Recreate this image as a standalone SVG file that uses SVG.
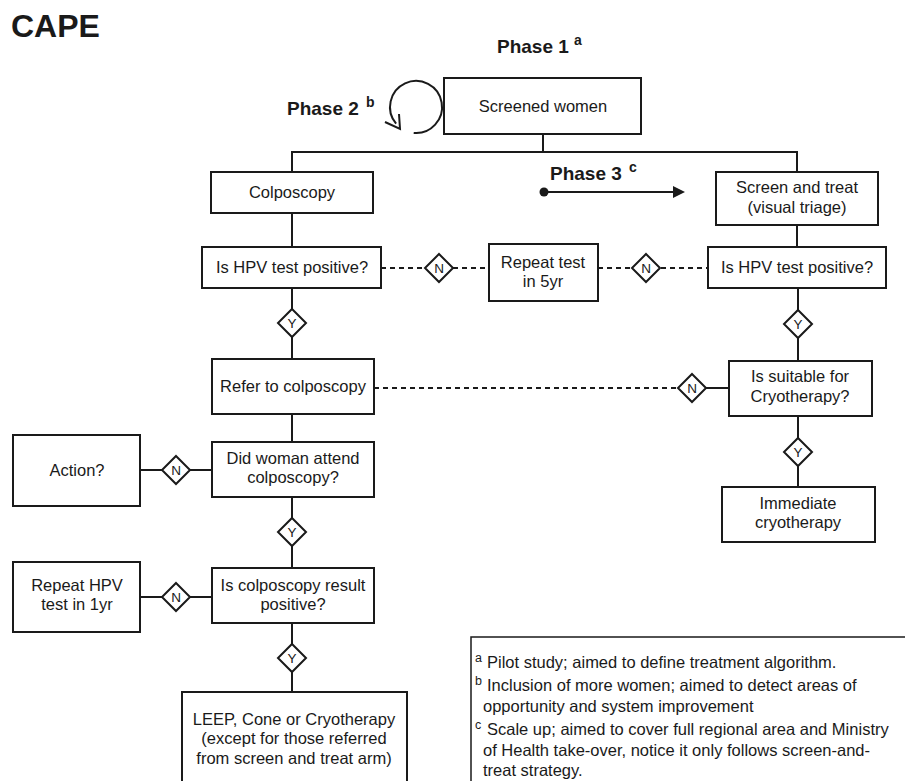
<svg xmlns="http://www.w3.org/2000/svg" width="905" height="781" viewBox="0 0 905 781">
<style>
.box{fill:#fff;stroke:#1a1a1a;stroke-width:2}
.dia{fill:#fff;stroke:#1a1a1a;stroke-width:2}
.ln{fill:none;stroke:#1a1a1a;stroke-width:2}
.dash{fill:none;stroke:#1a1a1a;stroke-width:2;stroke-dasharray:5,4}
text{font-family:"Liberation Sans",Arial,sans-serif;fill:#1a1a1a}
.t{font-size:16.5px;text-anchor:middle}
.d{font-size:13.5px;text-anchor:middle}
.ph{font-size:19px;font-weight:bold}
.sup{font-size:14px;font-weight:bold}
.lg{font-size:16.5px}
.ls{font-size:12.5px}
</style>
<rect width="905" height="781" fill="#fff"/>
<text x="11" y="37" style="font-size:32px;font-weight:bold">CAPE</text>

<g id="phases">
<text class="ph" x="497" y="53">Phase 1</text><text class="sup" x="574" y="45">a</text>
<text class="ph" x="287" y="115">Phase 2</text><text class="sup" x="366" y="107">b</text>
<text class="ph" x="550" y="180">Phase 3</text><text class="sup" x="629" y="172">c</text>
<path class="ln" d="M413.7,132.9 A26,26 0 1 0 396.1,123.7"/>
<polyline class="ln" points="385,122 400,129 399,114"/>
<circle cx="544" cy="192" r="4.5" fill="#1a1a1a"/>
<line class="ln" x1="544" y1="192" x2="675" y2="192"/>
<polygon points="685,192 673,186 673,198" fill="#1a1a1a"/>
</g>

<g id="connectors">
<line class="ln" x1="543" y1="134" x2="543" y2="152"/>
<polyline class="ln" points="292,172 292,152 797,152 797,172"/>
<line class="ln" x1="292" y1="213" x2="292" y2="247"/>
<line class="ln" x1="797" y1="225" x2="797" y2="247"/>
<line class="ln" x1="292" y1="288" x2="292" y2="359"/>
<line class="ln" x1="292" y1="414" x2="292" y2="442"/>
<line class="ln" x1="292" y1="497" x2="292" y2="568"/>
<line class="ln" x1="292" y1="623" x2="292" y2="692"/>
<line class="ln" x1="140" y1="470" x2="212" y2="470"/>
<line class="ln" x1="140" y1="597" x2="212" y2="597"/>
<line class="ln" x1="798" y1="288" x2="798" y2="361"/>
<line class="ln" x1="798" y1="416" x2="798" y2="487"/>
<line class="ln" x1="692" y1="388" x2="729" y2="388"/>
<line class="dash" x1="374" y1="388" x2="678" y2="388"/>
<line class="dash" x1="381" y1="268" x2="489" y2="268"/>
<line class="dash" x1="598" y1="268" x2="708" y2="268"/>
</g>

<g id="n-screened"><rect class="box" x="444" y="78" width="197" height="56"/><text class="t" x="543" y="112">Screened women</text></g>
<g id="n-colposcopy"><rect class="box" x="211" y="172" width="162" height="41"/><text class="t" x="292" y="198">Colposcopy</text></g>
<g id="n-screentreat"><rect class="box" x="716" y="172" width="162" height="53"/><text class="t" x="797" y="193">Screen and treat</text><text class="t" x="797" y="213">(visual triage)</text></g>
<g id="n-hpv-left"><rect class="box" x="202" y="247" width="179" height="41"/><text class="t" x="292" y="273">Is HPV test positive?</text></g>
<g id="n-repeat5"><rect class="box" x="489" y="244" width="109" height="57"/><text class="t" x="543" y="268">Repeat test</text><text class="t" x="543" y="287">in 5yr</text></g>
<g id="n-hpv-right"><rect class="box" x="708" y="247" width="178" height="41"/><text class="t" x="797" y="273">Is HPV test positive?</text></g>
<g id="n-refer"><rect class="box" x="212" y="359" width="162" height="55"/><text class="t" x="293" y="392">Refer to colposcopy</text></g>
<g id="n-suitable"><rect class="box" x="729" y="361" width="143" height="55"/><text class="t" x="800" y="382">Is suitable for</text><text class="t" x="800" y="402">Cryotherapy?</text></g>
<g id="n-attend"><rect class="box" x="212" y="442" width="162" height="55"/><text class="t" x="293" y="464">Did woman attend</text><text class="t" x="293" y="483">colposcopy?</text></g>
<g id="n-action"><rect class="box" x="13" y="435" width="127" height="71"/><text class="t" x="77" y="476">Action?</text></g>
<g id="n-immediate"><rect class="box" x="722" y="487" width="153" height="55"/><text class="t" x="798" y="509">Immediate</text><text class="t" x="798" y="528">cryotherapy</text></g>
<g id="n-result"><rect class="box" x="212" y="568" width="162" height="55"/><text class="t" x="293" y="591">Is colposcopy result</text><text class="t" x="293" y="610">positive?</text></g>
<g id="n-repeat1"><rect class="box" x="13" y="562" width="127" height="70"/><text class="t" x="77" y="591">Repeat HPV</text><text class="t" x="77" y="610">test in 1yr</text></g>
<g id="n-leep"><rect class="box" x="182" y="692" width="225" height="100"/><text class="t" x="294" y="725">LEEP, Cone or Cryotherapy</text><text class="t" x="294" y="744">(except for those referred</text><text class="t" x="294" y="764">from screen and treat arm)</text></g>

<g id="diamonds">
<g id="d1"><polygon class="dia" points="439,254 453,268 439,282 425,268"/><text class="d" x="439" y="273">N</text></g>
<g id="d2"><polygon class="dia" points="646,254 660,268 646,282 632,268"/><text class="d" x="646" y="273">N</text></g>
<g id="d3"><polygon class="dia" points="292,309 306,323 292,337 278,323"/><text class="d" x="292" y="328">Y</text></g>
<g id="d4"><polygon class="dia" points="798,310 812,324 798,338 784,324"/><text class="d" x="798" y="329">Y</text></g>
<g id="d5"><polygon class="dia" points="692,374 706,388 692,402 678,388"/><text class="d" x="692" y="393">N</text></g>
<g id="d6"><polygon class="dia" points="798,438 812,452 798,466 784,452"/><text class="d" x="798" y="457">Y</text></g>
<g id="d7"><polygon class="dia" points="176,456 190,470 176,484 162,470"/><text class="d" x="176" y="475">N</text></g>
<g id="d8"><polygon class="dia" points="292,518 306,532 292,546 278,532"/><text class="d" x="292" y="537">Y</text></g>
<g id="d9"><polygon class="dia" points="176,583 190,597 176,611 162,597"/><text class="d" x="176" y="602">N</text></g>
<g id="d10"><polygon class="dia" points="292,644 306,658 292,672 278,658"/><text class="d" x="292" y="663">Y</text></g>
</g>

<g id="legend">
<rect x="471" y="637" width="460" height="200" fill="#fff" stroke="#1a1a1a" stroke-width="1.5"/>
<text class="ls" x="475" y="662">a</text><text class="lg" x="487" y="668">Pilot study; aimed to define treatment algorithm.</text>
<text class="ls" x="475" y="685">b</text><text class="lg" x="487" y="691">Inclusion of more women; aimed to detect areas of</text>
<text class="lg" x="483" y="712">opportunity and system improvement</text>
<text class="ls" x="475" y="729">c</text><text class="lg" x="487" y="735">Scale up; aimed to cover full regional area and Ministry</text>
<text class="lg" x="483" y="756">of Health take-over, notice it only follows screen-and-</text>
<text class="lg" x="483" y="776">treat strategy.</text>
</g>
</svg>
